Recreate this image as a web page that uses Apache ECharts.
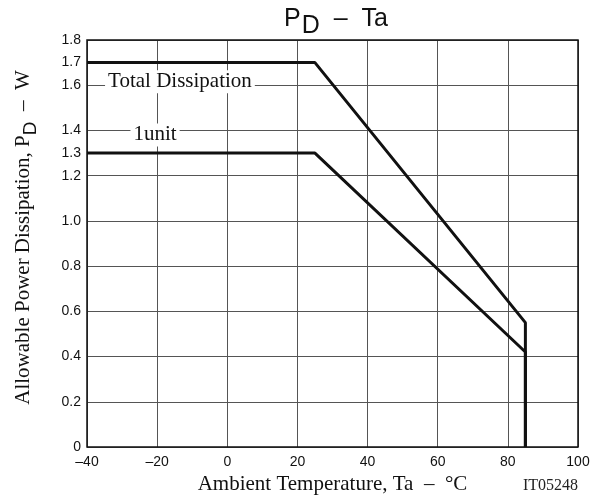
<!DOCTYPE html>
<html>
<head>
<meta charset="utf-8">
<script src="https://cdn.jsdelivr.net/npm/echarts@6/dist/echarts.min.js"></script>
<style>html,body{margin:0;padding:0;background:#fff;}#c{width:602px;height:500px;}</style>
</head>
<body>
<div id="c"></div>
<script>
// Data
var totalDissipation = [[-40, 1.7], [25, 1.7], [85, 0.55], [85, 0]];
var oneUnit = [[-40, 1.3], [25, 1.3], [85, 0.42], [85, 0]];
var curveLabels = [[-13.5, 1.615, 'Total Dissipation'], [-20.6, 1.38, '1unit']];
var yTickValues = [0, 0.2, 0.4, 0.6, 0.8, 1.0, 1.2, 1.3, 1.4, 1.6, 1.7, 1.8];

var chart = echarts.init(document.getElementById('c'));
var serif = '"Liberation Serif", "Times New Roman", serif';
var sans = '"Liberation Sans", Arial, sans-serif';
chart.setOption({
  animation: false,
  backgroundColor: '#fff',
  title: {
    text: '{a|P}{s|D}{a|  –  Ta}',
    left: 331, textAlign: 'center', top: 2,
    textStyle: {
      fontWeight: 'normal',
      rich: {
        a: {fontFamily: sans, fontSize: 25, fontWeight: 'normal', color: '#111', lineHeight: 30, verticalAlign: 'top'},
        s: {fontFamily: sans, fontSize: 25, fontWeight: 'normal', color: '#111', padding: [7, 0, 0, 1], lineHeight: 30, verticalAlign: 'top'}
      }
    }
  },
  grid: {left: 87, right: 24, top: 40, bottom: 53, outerBoundsMode: 'none', containLabel: false},
  xAxis: {
    type: 'value', min: -40, max: 100, interval: 20,
    name: 'Ambient Temperature, Ta  –  °C', nameLocation: 'middle', nameGap: 27,
    nameTextStyle: {fontFamily: serif, fontSize: 21, color: '#111'},
    axisLine: {show: false},
    axisTick: {show: false},
    axisLabel: {
      fontFamily: sans, fontSize: 14, color: '#111', margin: 8,
      formatter: function (v) { return String(v).replace('-', '–'); }
    },
    splitLine: {show: true, lineStyle: {color: '#555', width: 1}}
  },
  yAxis: {
    type: 'value', min: 0, max: 1.8, interval: 0.2,
    name: '{a|Allowable Power Dissipation, P}{s|D}{a|  –  W}', nameLocation: 'middle', nameGap: 48,
    nameTextStyle: {
      padding: [0, 0, 0, 12],
      rich: {
        a: {fontFamily: serif, fontSize: 21, color: '#111', lineHeight: 26, verticalAlign: 'top'},
        s: {fontFamily: sans, fontSize: 19, color: '#111', padding: [8, 0, 0, 0], lineHeight: 26, verticalAlign: 'top'}
      }
    },
    axisLine: {show: false},
    axisTick: {show: false},
    axisLabel: {
      customValues: yTickValues,
      fontFamily: sans, fontSize: 14, color: '#111', margin: 6,
      formatter: function (v) { return v === 0 ? '0' : v.toFixed(1); }
    },
    splitLine: {show: true, lineStyle: {color: '#555', width: 1}}
  },
  series: [
    {
      type: 'line', data: totalDissipation, symbol: 'none',
      lineStyle: {color: '#111', width: 3}, z: 5
    },
    {
      type: 'line', data: oneUnit, symbol: 'none',
      lineStyle: {color: '#111', width: 3}, z: 5
    },
    {
      type: 'scatter', data: curveLabels, symbolSize: 0, z: 6,
      itemStyle: {opacity: 1},
      label: {
        show: true, position: 'inside',
        formatter: function (p) { return p.data[2]; },
        fontFamily: serif, fontSize: 21, color: '#111', opacity: 1,
        backgroundColor: '#fff', padding: [1, 3, 1, 3]
      }
    }
  ]
});
// plot border and figure id, positioned from the grid's own rect
var rect = chart.getModel().getComponent('grid').coordinateSystem.getRect();
chart.setOption({graphic: [{
  type: 'rect', shape: {x: rect.x, y: rect.y, width: rect.width, height: rect.height},
  style: {fill: 'none', stroke: '#111', lineWidth: 1.5}, z: 4, silent: true
}, {
  type: 'text', left: 523, top: 478,
  style: {text: 'IT05248', font: '16px ' + serif, fill: '#222'}
}]});
</script>
</body>
</html>
